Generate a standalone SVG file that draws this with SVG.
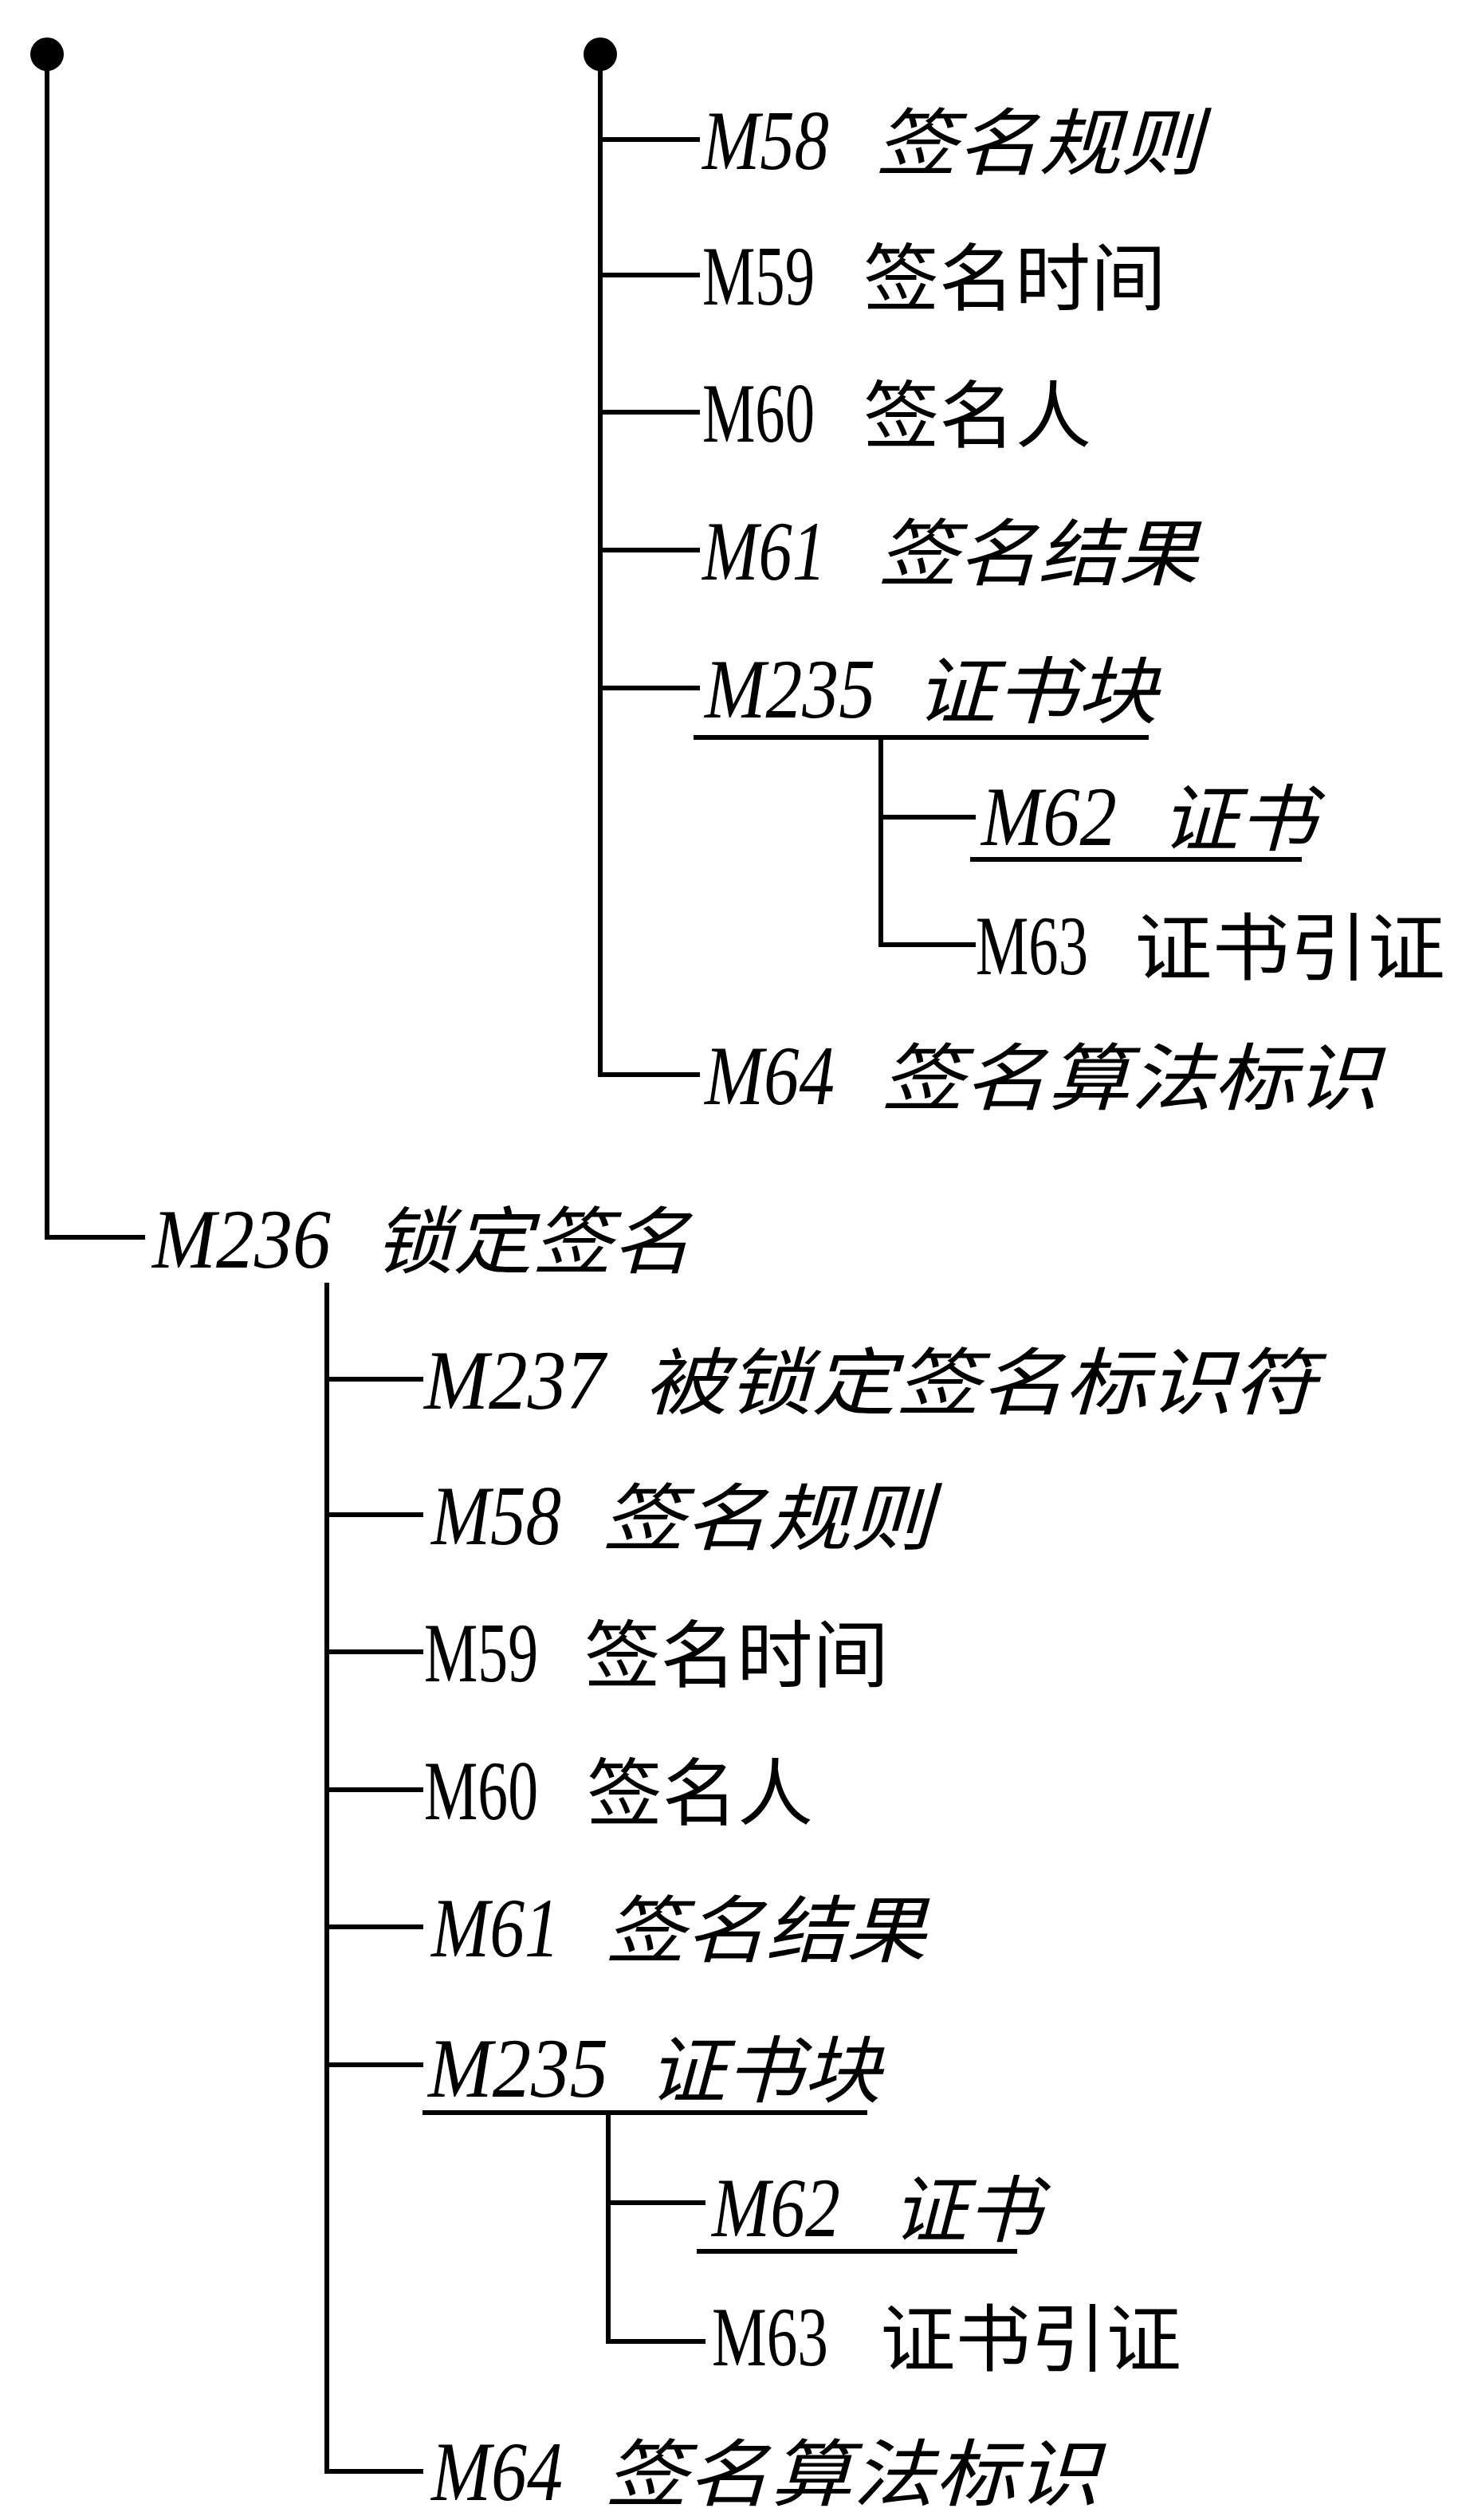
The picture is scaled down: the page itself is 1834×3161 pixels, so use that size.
<svg xmlns="http://www.w3.org/2000/svg" width="1834" height="3161" viewBox="0 0 1834 3161">
<style>
.code{font-family:"Liberation Serif","Times New Roman",serif;font-size:106px;fill:#000}
.name{font-family:"Noto Sans CJK SC","Noto Sans CJK JP",sans-serif;font-size:92px;fill:#000}
.it{font-style:italic}
.ln{stroke:#000;stroke-width:6;fill:none;stroke-linecap:square}
.ul{stroke:#000;stroke-width:6;fill:none}
.dot{fill:#000}
</style>
<rect width="1834" height="3161" fill="#fff"/>
<g id="connectors">
<circle class="dot" cx="59" cy="68" r="21"/>
<circle class="dot" cx="753" cy="68" r="21"/>
<path class="ln" d="M59 68 V1552 H179"/>
<path class="ln" d="M753 68 V1348 H875"/>
<path class="ln" d="M753 175 H875 M753 345 H875 M753 517 H875 M753 690 H875 M753 863 H875"/>
<path class="ln" d="M1105 925 V1185 H1221 M1105 1025 H1221"/>
<path class="ln" d="M410 1612 V3100 H528"/>
<path class="ln" d="M410 1730 H528 M410 1900 H528 M410 2072 H528 M410 2245 H528 M410 2417 H528 M410 2590 H528"/>
<path class="ln" d="M763 2650 V2937 H882 M763 2763 H882"/>
<path class="ul" d="M870 925 H1441 M1217 1078 H1633 M530 2650 H1088 M874 2824 H1276"/>
</g>
<g id="u-m58">
<text class="code it" x="881" y="212" textLength="159" lengthAdjust="spacingAndGlyphs">M58</text>
<text class="name it" x="1098" y="212" textLength="410" lengthAdjust="spacingAndGlyphs">签名规则</text>
</g>
<g id="u-m59">
<text class="code" x="881" y="382" textLength="141" lengthAdjust="spacingAndGlyphs">M59</text>
<text class="name" x="1083" y="382" textLength="380" lengthAdjust="spacingAndGlyphs">签名时间</text>
</g>
<g id="u-m60">
<text class="code" x="881" y="554" textLength="141" lengthAdjust="spacingAndGlyphs">M60</text>
<text class="name" x="1083" y="554" textLength="286" lengthAdjust="spacingAndGlyphs">签名人</text>
</g>
<g id="u-m61">
<text class="code it" x="881" y="727" textLength="155" lengthAdjust="spacingAndGlyphs">M61</text>
<text class="name it" x="1101" y="727" textLength="402" lengthAdjust="spacingAndGlyphs">签名结果</text>
</g>
<g id="u-m235">
<text class="code it" x="884" y="900" textLength="214" lengthAdjust="spacingAndGlyphs">M235</text>
<text class="name it" x="1148" y="900" textLength="304" lengthAdjust="spacingAndGlyphs">证书块</text>
</g>
<g id="u-m62">
<text class="code it" x="1231" y="1060" textLength="170" lengthAdjust="spacingAndGlyphs">M62</text>
<text class="name it" x="1456" y="1060" textLength="195" lengthAdjust="spacingAndGlyphs">证书</text>
</g>
<g id="u-m63">
<text class="code" x="1224" y="1222" textLength="141" lengthAdjust="spacingAndGlyphs">M63</text>
<text class="name" x="1423" y="1222" textLength="390" lengthAdjust="spacingAndGlyphs">证书引证</text>
</g>
<g id="u-m64">
<text class="code it" x="884" y="1385" textLength="163" lengthAdjust="spacingAndGlyphs">M64</text>
<text class="name it" x="1105" y="1385" textLength="625" lengthAdjust="spacingAndGlyphs">签名算法标识</text>
</g>
<g id="m236">
<text class="code it" x="191" y="1590" textLength="224" lengthAdjust="spacingAndGlyphs">M236</text>
<text class="name it" x="469" y="1590" textLength="398" lengthAdjust="spacingAndGlyphs">锁定签名</text>
</g>
<g id="l-m237">
<text class="code it" x="532" y="1767" textLength="227" lengthAdjust="spacingAndGlyphs">M237</text>
<text class="name it" x="807" y="1767" textLength="845" lengthAdjust="spacingAndGlyphs">被锁定签名标识符</text>
</g>
<g id="l-m58">
<text class="code it" x="541" y="1937" textLength="163" lengthAdjust="spacingAndGlyphs">M58</text>
<text class="name it" x="755" y="1937" textLength="415" lengthAdjust="spacingAndGlyphs">签名规则</text>
</g>
<g id="l-m59">
<text class="code" x="532" y="2109" textLength="143" lengthAdjust="spacingAndGlyphs">M59</text>
<text class="name" x="733" y="2109" textLength="382" lengthAdjust="spacingAndGlyphs">签名时间</text>
</g>
<g id="l-m60">
<text class="code" x="532" y="2282" textLength="143" lengthAdjust="spacingAndGlyphs">M60</text>
<text class="name" x="736" y="2282" textLength="284" lengthAdjust="spacingAndGlyphs">签名人</text>
</g>
<g id="l-m61">
<text class="code it" x="541" y="2454" textLength="161" lengthAdjust="spacingAndGlyphs">M61</text>
<text class="name it" x="759" y="2454" textLength="403" lengthAdjust="spacingAndGlyphs">签名结果</text>
</g>
<g id="l-m235">
<text class="code it" x="537" y="2630" textLength="226" lengthAdjust="spacingAndGlyphs">M235</text>
<text class="name it" x="813" y="2630" textLength="292" lengthAdjust="spacingAndGlyphs">证书块</text>
</g>
<g id="l-m62">
<text class="code it" x="893" y="2805" textLength="161" lengthAdjust="spacingAndGlyphs">M62</text>
<text class="name it" x="1119" y="2805" textLength="188" lengthAdjust="spacingAndGlyphs">证书</text>
</g>
<g id="l-m63">
<text class="code" x="893" y="2967" textLength="146" lengthAdjust="spacingAndGlyphs">M63</text>
<text class="name" x="1104" y="2967" textLength="378" lengthAdjust="spacingAndGlyphs">证书引证</text>
</g>
<g id="l-m64">
<text class="code it" x="541" y="3136" textLength="165" lengthAdjust="spacingAndGlyphs">M64</text>
<text class="name it" x="759" y="3136" textLength="620" lengthAdjust="spacingAndGlyphs">签名算法标识</text>
</g>
</svg>
